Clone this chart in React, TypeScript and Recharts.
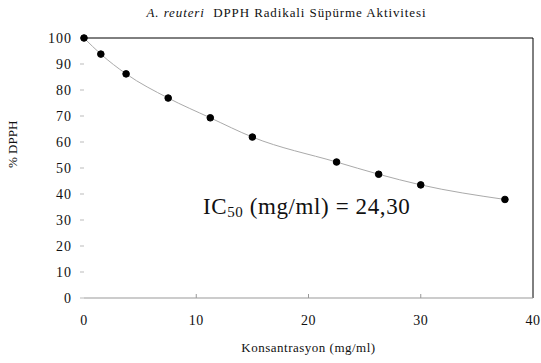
import { CartesianGrid, Line, LineChart, ReferenceLine, XAxis, YAxis } from "recharts";

const concentration = [0, 1.5, 3.75, 7.5, 11.25, 15, 22.5, 26.25, 30, 37.5];
const dpph = [100, 93.8, 86.2, 76.9, 69.3, 61.9, 52.3, 47.6, 43.5, 37.9];
const xTicks = [0, 10, 20, 30, 40];
const yTicks = [0, 10, 20, 30, 40, 50, 60, 70, 80, 90, 100];

const data = concentration.map((c, i) => ({ c, v: dpph[i] }));

const serif = "Times New Roman, Liberation Serif, Tinos, DejaVu Serif, serif";

function XTick(props: any) {
  const { x, y, payload } = props;
  return (
    <g>
      {payload.value > 0 && payload.value < 40 && (
        <line x1={x} x2={x} y1={y - 4} y2={y} stroke="#999" />
      )}
      <text x={x} y={y + 27} textAnchor="middle" fontSize={14} fontFamily={serif} fill="#111" letterSpacing={0.5}>
        {payload.value}
      </text>
    </g>
  );
}

export default function App() {
  return (
    <div style={{ position: "absolute", left: 0, top: 0, width: 541, height: 363, background: "#fff" }}>
      <LineChart width={541} height={363} data={data} margin={{ top: 38, right: 8, left: 0, bottom: 25 }}>
        <CartesianGrid stroke="none" />
        <XAxis
          dataKey="c"
          type="number"
          domain={[0, 40]}
          ticks={xTicks}
          axisLine={{ stroke: "#999" }}
          tickLine={false}
          tickSize={0}
          tickMargin={0}
          height={40}
          tick={<XTick />}
          label={{ value: "Konsantrasyon (mg/ml)", position: "insideBottom", offset: -14, fontSize: 13, fontFamily: serif, fill: "#111", letterSpacing: 0.5 }}
        />
        <YAxis
          type="number"
          domain={[0, 100]}
          ticks={yTicks}
          width={84}
          axisLine={false}
          tickLine={{ stroke: "#bbb" }}
          tickSize={4}
          tickMargin={8}
          tick={{ fontSize: 14, fontFamily: serif, fill: "#111", letterSpacing: 1 }}
          label={{ value: "% DPPH", angle: -90, position: "insideLeft", offset: 12, fontSize: 13, fontFamily: serif, fill: "#111" }}
        />
        <ReferenceLine y={100} stroke="#000" strokeWidth={1} />
        <ReferenceLine x={40} stroke="#000" strokeWidth={1} />
        <Line
          type="monotone"
          dataKey="v"
          stroke="#aaa"
          strokeWidth={1}
          dot={{ r: 3.3, fill: "#000", stroke: "#000", strokeWidth: 1 }}
          isAnimationActive={false}
        />
      </LineChart>
      <div style={{ position: "absolute", top: 5, left: 0, width: 541, paddingLeft: 32, boxSizing: "border-box", textAlign: "center", fontFamily: serif, fontSize: 13, letterSpacing: 0.9, color: "#111", whiteSpace: "nowrap" }}>
        <i>A. reuteri</i>&nbsp; DPPH Radikali Süpürme Aktivitesi
      </div>
      <div style={{ position: "absolute", top: 194, left: 203, fontFamily: serif, fontSize: 23, letterSpacing: 0.6, color: "#111", whiteSpace: "nowrap" }}>
        IC<sub style={{ fontSize: 15, verticalAlign: "-3px" }}>50</sub> (mg/ml) = 24,30
      </div>
    </div>
  );
}
